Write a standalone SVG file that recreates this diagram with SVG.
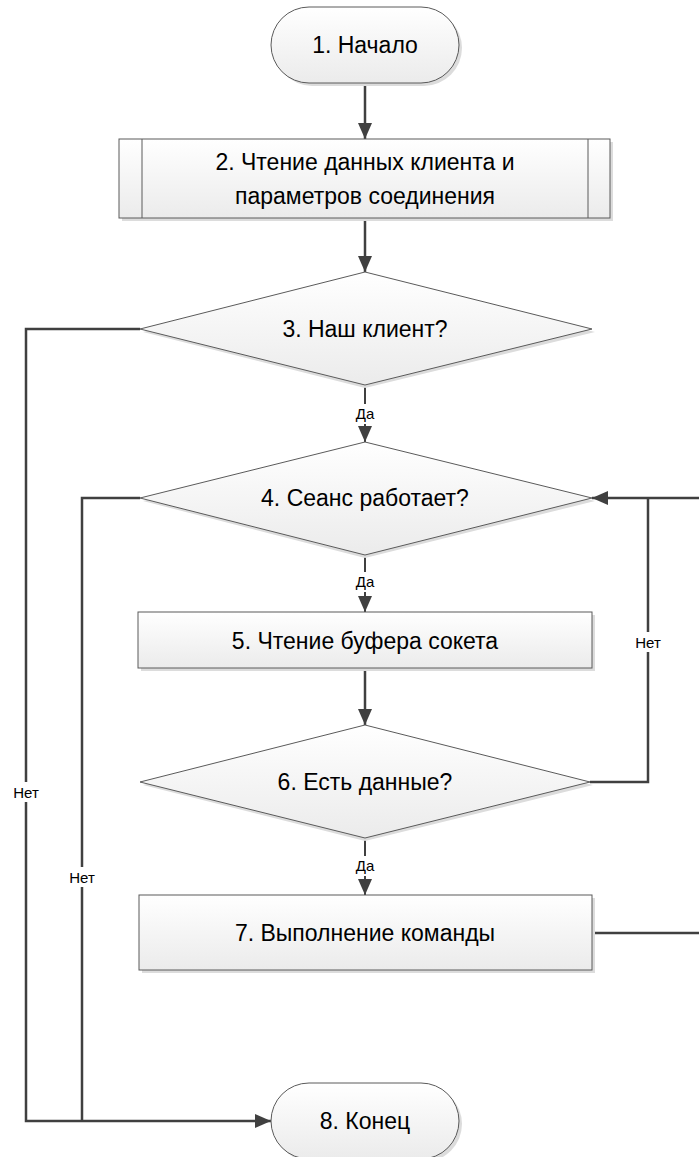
<svg xmlns="http://www.w3.org/2000/svg" width="699" height="1157" viewBox="0 0 699 1157">
<defs>
<linearGradient id="g" x1="0" y1="0" x2="0" y2="1">
<stop offset="0" stop-color="#ffffff"/>
<stop offset="1" stop-color="#ebebeb"/>
</linearGradient>
<marker id="ah" markerUnits="userSpaceOnUse" markerWidth="16" markerHeight="14" refX="16" refY="7" orient="auto">
<path d="M0,0 L16,7 L0,14 Z" fill="#404040"/>
</marker>
</defs>
<style>
.s{fill:url(#g);stroke:#5a5a5a;stroke-width:1}
.sh{fill:#dcdcdc;stroke:none}
.t{font-family:"Liberation Sans",Arial,sans-serif;font-size:23px;fill:#000;text-anchor:middle;dominant-baseline:central}
.l{font-family:"Liberation Sans",Arial,sans-serif;font-size:15px;fill:#000;text-anchor:middle;dominant-baseline:central}
.c{fill:none;stroke:#404040;stroke-width:2.5}
.d{fill:none;stroke:#404040;stroke-width:2}
.a{marker-end:url(#ah)}
.bg{fill:#fff}
</style>
<g id="connectors">
<path class="c a" d="M365,83 V139"/>
<path class="c a" d="M365,218 V272"/>
<path class="d a" d="M365,385 V442"/>
<path class="c a" d="M140,329 H26 V1121 H271"/>
<path class="c" d="M140,498 H82 V1121"/>
<path class="d a" d="M365,555 V612"/>
<path class="c a" d="M365,668 V725"/>
<path class="c" d="M590,782 H648 V498"/>
<path class="c a" d="M699,498 H592"/>
<path class="d a" d="M365,838 V895"/>
<path class="c" d="M592,933 H699"/>
<rect class="bg" x="352" y="404" width="26" height="20"/>
<text class="l" x="365" y="413">Да</text>
<rect class="bg" x="352" y="572" width="26" height="20"/>
<text class="l" x="365" y="581">Да</text>
<rect class="bg" x="352" y="856" width="26" height="20"/>
<text class="l" x="365" y="865">Да</text>
<rect class="bg" x="9" y="782" width="34" height="20"/>
<text class="l" x="26" y="792">Нет</text>
<rect class="bg" x="65" y="867" width="34" height="20"/>
<text class="l" x="82" y="877">Нет</text>
<rect class="bg" x="631" y="632" width="34" height="20"/>
<text class="l" x="648" y="642">Нет</text>
</g>
<g id="n1">
<rect class="sh" x="274" y="10" width="188" height="76" rx="38"/>
<rect class="s" x="271" y="7" width="188" height="76" rx="38"/>
<text class="t" x="365" y="45">1. Начало</text>
</g>
<g id="n2">
<rect class="sh" x="122" y="142" width="491" height="79"/>
<rect class="s" x="119" y="139" width="491" height="79"/>
<path d="M142,139 V218 M588,139 V218" stroke="#5a5a5a" stroke-width="1"/>
<text class="t" x="365" y="162">2. Чтение данных клиента и</text>
<text class="t" x="365" y="196">параметров соединения</text>
</g>
<g id="n3">
<polygon class="sh" points="365,275 595,332 365,388 143,332"/>
<polygon class="s" points="365,272 592,329 365,385 140,329"/>
<text class="t" x="365" y="329">3. Наш клиент?</text>
</g>
<g id="n4">
<polygon class="sh" points="365,445 595,501 365,558 143,501"/>
<polygon class="s" points="365,442 592,498 365,555 140,498"/>
<text class="t" x="365" y="498">4. Сеанс работает?</text>
</g>
<g id="n5">
<rect class="sh" x="141" y="615" width="454" height="56"/>
<rect class="s" x="138" y="612" width="454" height="56"/>
<text class="t" x="365" y="641">5. Чтение буфера сокета</text>
</g>
<g id="n6">
<polygon class="sh" points="365,728 593,785 365,841 143,785"/>
<polygon class="s" points="365,725 590,782 365,838 140,782"/>
<text class="t" x="365" y="782">6. Есть данные?</text>
</g>
<g id="n7">
<rect class="sh" x="142" y="898" width="453" height="75"/>
<rect class="s" x="139" y="895" width="453" height="75"/>
<text class="t" x="365" y="933">7. Выполнение команды</text>
</g>
<g id="n8">
<rect class="sh" x="274" y="1086" width="188" height="76" rx="38"/>
<rect class="s" x="271" y="1083" width="188" height="76" rx="38"/>
<text class="t" x="365" y="1121">8. Конец</text>
</g>
</svg>
